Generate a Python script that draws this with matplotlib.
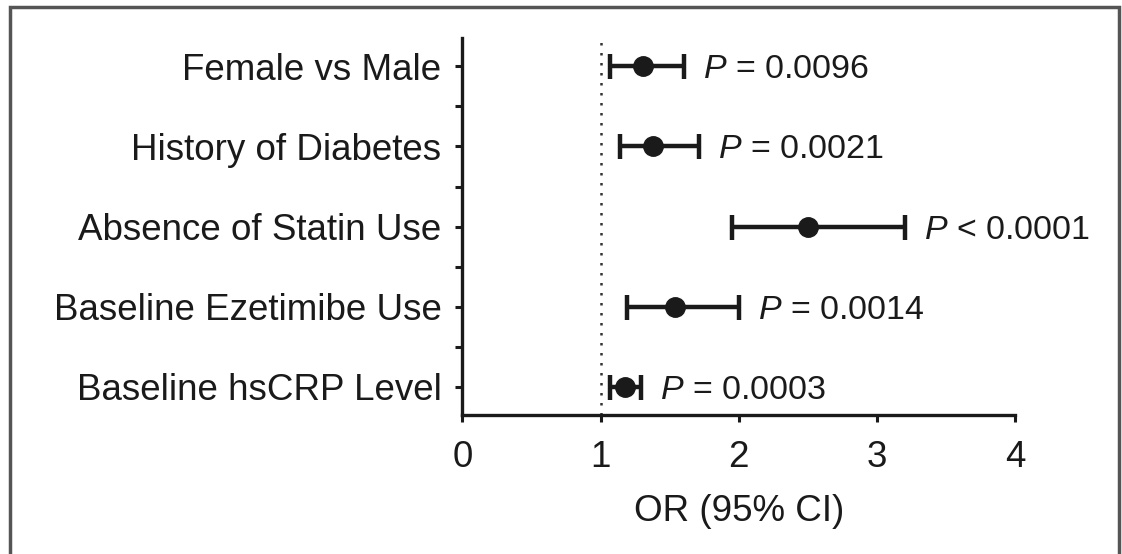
import numpy as np
import matplotlib
matplotlib.use("Agg")
import matplotlib.pyplot as plt
from matplotlib.patches import Rectangle

# forest plot data
labels = ["Female vs Male", "History of Diabetes", "Absence of Statin Use",
          "Baseline Ezetimibe Use", "Baseline hsCRP Level"]
odds = [1.31, 1.38, 2.50, 1.54, 1.18]
ci_low = [1.07, 1.14, 1.95, 1.19, 1.07]
ci_high = [1.60, 1.71, 3.20, 2.00, 1.29]
pvals = ["= 0.0096", "= 0.0021", "< 0.0001", "= 0.0014", "= 0.0003"]
xticks = [0, 1, 2, 3, 4]

plt.rcParams['font.family'] = ['Liberation Sans', 'DejaVu Sans']
plt.rcParams['mathtext.fontset'] = 'custom'
plt.rcParams['mathtext.rm'] = 'Liberation Sans'
plt.rcParams['mathtext.it'] = 'Liberation Sans:italic'

FS = 26.5
FS_P = 24.5

fig = plt.figure(figsize=(11.22, 5.54), dpi=100)
ax = fig.add_axes([0.412, 0.251, 0.493, 0.680])

y = np.arange(len(labels))
odds = np.array(odds)
err = [odds - np.array(ci_low), np.array(ci_high) - odds]

ax.axvline(1, color="#333333", linestyle=(0, (1, 3)), linewidth=1.8, zorder=1)
ax.errorbar(odds, y, xerr=err, fmt="o", color="#1a1a1a", markersize=14,
            elinewidth=3.2, capsize=9, capthick=3.2, zorder=3)

for yi, hi, p in zip(y, ci_high, pvals):
    ax.annotate(r"$\it{P}$ " + p, xy=(hi, yi), xytext=(14, 0),
                textcoords="offset points", va="center_baseline", ha="left",
                fontsize=FS_P, color="#1a1a1a")

ax.set_xlim(0, 4)
ax.set_ylim(len(labels) - 0.65, -0.35)
ax.set_xticks(xticks)
ax.set_xticklabels([str(t) for t in xticks])
ax.set_yticks(y)
ax.set_yticklabels(labels)
ax.set_yticks(y[:-1] + 0.5, minor=True)
ax.tick_params(axis="both", labelsize=FS, width=2.2, length=5, color="#1a1a1a",
               labelcolor="#1a1a1a")
ax.tick_params(axis="y", which="minor", width=2.2, length=5, color="#1a1a1a")
ax.tick_params(axis="x", pad=13)
ax.tick_params(axis="y", pad=10)
ax.set_xlabel("OR (95% CI)", fontsize=FS, color="#1a1a1a", labelpad=14)

for s in ["top", "right"]:
    ax.spines[s].set_visible(False)
for s in ["left", "bottom"]:
    ax.spines[s].set_linewidth(2.4)
    ax.spines[s].set_color("#1a1a1a")

# outer frame of the figure panel
fig.patches.append(Rectangle((0.009, -0.05), 0.988, 1.037, transform=fig.transFigure,
                             fill=False, edgecolor="#555555", linewidth=2.5))

fig.savefig("out.png", dpi=100)
